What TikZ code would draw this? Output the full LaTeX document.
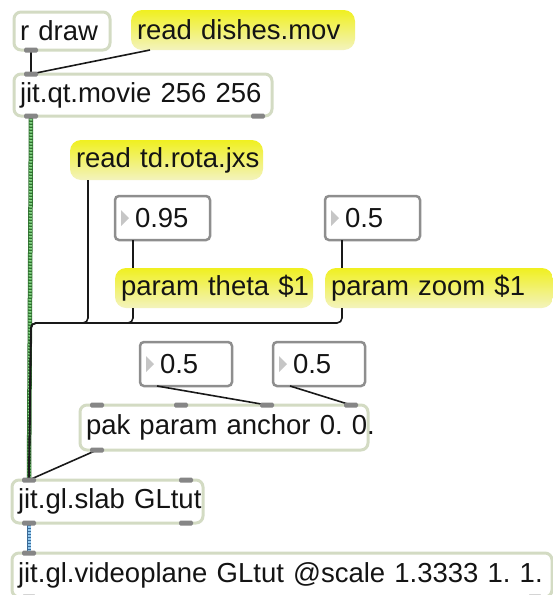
\documentclass[tikz,border=0pt]{standalone}
\usepackage{fontspec}
\setmainfont{Liberation Sans}
\usetikzlibrary{calc}
\frenchspacing

\definecolor{objedge}{HTML}{D3DBC3}
\definecolor{msgtop}{HTML}{F0F020}
\definecolor{msgbot}{HTML}{F3F3BE}
\definecolor{numedge}{HTML}{8E8E8E}
\definecolor{portgray}{HTML}{868686}
\definecolor{trigray}{HTML}{C6C6C6}
\definecolor{matgreen}{HTML}{86D886}
\definecolor{matdark}{HTML}{2F6F2F}
\definecolor{glblue}{HTML}{92C8EE}
\definecolor{gldark}{HTML}{3B6B98}

\tikzset{
  box/.style={anchor=north west, outer sep=0pt, inner xsep=6pt, inner ysep=0pt,
    align=left, text=black!92, font=\fontsize{27.5}{32}\selectfont},
  obj/.style={box, draw=objedge, line width=3pt, fill=white, rounded corners=7pt},
  msg/.style={box, top color=msgtop, bottom color=msgbot, draw=none, rounded corners=11pt},
  num/.style={box, draw=numedge, line width=2.5pt, fill=white, rounded corners=4pt},
  cord/.style={draw=black!90, line width=1.6pt, rounded corners=5pt},
  mcord/.style={line width=4.5pt, draw=matdark},
  mdots/.style={line width=3pt, draw=matgreen, dash pattern=on 1.5pt off 1.5pt},
  gcord/.style={line width=4.5pt, draw=gldark},
  gdots/.style={line width=3pt, draw=glblue, dash pattern=on 1.5pt off 1.5pt},
  portfill/.style={fill=portgray, rounded corners=1.5pt},
  trifill/.style={fill=trigray}
}

% small inlet/outlet tab centred on a point
\newcommand\tab[1]{\fill[portfill] (#1) ++(-7,-2.5) rectangle ++(14,5);}
% play triangle at the left of a number box
\newcommand\playtri[1]{\fill[trifill] ($(#1.west)+(6,-8)$) -- ++(0,16) -- ++(8,-8) -- cycle;}

\begin{document}
\begin{tikzpicture}[x=1pt,y=-1pt]
\useasboundingbox (0,0) rectangle (553,595);

% ---- boxes
\node[obj, text width=84pt, minimum height=38pt] (rdraw) at (14,12) {\mbox{r draw}};
\node[msg, text width=212pt, minimum height=40pt] (readmov) at (131,10) {\mbox{read dishes.mov}};
\node[obj, text width=246pt, minimum height=42pt] (movie) at (14,74) {\mbox{jit.qt.movie 256 256}};
\node[msg, text width=181pt, minimum height=40pt] (readjxs) at (70,140) {\mbox{read td.rota.jxs}};
\node[num, text width=83pt, minimum height=44pt] (numtheta) at (115,196) {\hspace*{14pt}0.95};
\node[num, text width=83pt, minimum height=44pt] (numzoom) at (325,196) {\hspace*{14pt}0.5};
\node[msg, text width=186pt, minimum height=40pt] (theta) at (115,268) {\mbox{param theta \$1}};
\node[msg, text width=216pt, minimum height=40pt] (zoom) at (325,268) {\mbox{param zoom \$1}};
\node[num, text width=80pt, minimum height=44pt] (numax) at (140,342) {\hspace*{14pt}0.5};
\node[num, text width=80pt, minimum height=44pt] (numay) at (273,342) {\hspace*{14pt}0.5};
\node[obj, text width=276pt, minimum height=45pt] (pak) at (80,405) {\mbox{pak param anchor 0. 0.}};
\node[obj, text width=179pt, minimum height=43pt] (slab) at (12,480) {\mbox{jit.gl.slab GLtut}};
\node[obj, text width=528pt, minimum height=44pt] (plane) at (12,553) {\mbox{jit.gl.videoplane GLtut @scale 1.3333 1. 1.}};

\playtri{numtheta}
\playtri{numzoom}
\playtri{numax}
\playtri{numay}

% ---- port positions
\coordinate (rdraw-o) at ($(rdraw.south west)+(17,0)$);
\coordinate (readmov-o) at ($(readmov.south west)+(19,0)$);
\coordinate (movie-i) at ($(movie.north west)+(17,0)$);
\coordinate (movie-o) at ($(movie.south west)+(17,0)$);
\coordinate (movie-o2) at ($(movie.south east)+(-14,0)$);
\coordinate (readjxs-o) at ($(readjxs.south west)+(18,0)$);
\coordinate (numtheta-o) at ($(numtheta.south west)+(18,0)$);
\coordinate (numzoom-o) at ($(numzoom.south west)+(17,0)$);
\coordinate (theta-i) at ($(theta.north west)+(18,0)$);
\coordinate (theta-o) at ($(theta.south west)+(18,0)$);
\coordinate (zoom-i) at ($(zoom.north west)+(17,0)$);
\coordinate (zoom-o) at ($(zoom.south west)+(17,0)$);
\coordinate (numax-o) at ($(numax.south west)+(17,0)$);
\coordinate (numay-o) at ($(numay.south west)+(17,0)$);
\coordinate (pak-i1) at ($(pak.north west)+(17,0)$);
\coordinate (pak-i2) at ($(pak.north west)+(101,0)$);
\coordinate (pak-i3) at ($(pak.north west)+(187,0)$);
\coordinate (pak-i4) at ($(pak.north west)+(271,0)$);
\coordinate (pak-o) at ($(pak.south west)+(17,0)$);
\coordinate (slab-i) at ($(slab.north west)+(17,0)$);
\coordinate (slab-i2) at ($(slab.north east)+(-17,0)$);
\coordinate (slab-o) at ($(slab.south west)+(17,0)$);
\coordinate (slab-o2) at ($(slab.south east)+(-17,0)$);
\coordinate (plane-i) at ($(plane.north west)+(17,0)$);
\coordinate (plane-o) at ($(plane.south west)+(17,0)$);
\coordinate (plane-o2) at ($(plane.south east)+(-17,0)$);
\coordinate (bus) at (31,323);

% ---- matrix and gl cords
\draw[mcord] (movie-o) -- (slab-i);
\draw[mdots] (movie-o) -- (slab-i);
\draw[gcord] (slab-o) -- (plane-i);
\draw[gdots] (slab-o) -- (plane-i);

% ---- message cords
\draw[cord] (rdraw-o) -- (movie-i);
\draw[cord] (readmov-o) -- (movie-i);
\draw[cord] (numtheta-o) -- (theta-i);
\draw[cord] (numzoom-o) -- (zoom-i);
\draw[cord] (readjxs-o) |- (bus) -- (slab-i);
\draw[cord] (theta-o) |- (bus) -- (slab-i);
\draw[cord] (zoom-o) |- (bus) -- (slab-i);
\draw[cord] (numax-o) -- (pak-i3);
\draw[cord] (numay-o) -- (pak-i4);
\draw[cord] (pak-o) -- (slab-i);

% ---- inlet and outlet tabs
\foreach \p in {rdraw-o, movie-i, movie-o, movie-o2, pak-i1, pak-i2, pak-i3, pak-i4,
                pak-o, slab-i, slab-i2, slab-o, slab-o2, plane-i, plane-o, plane-o2}
  {\tab{\p}}
\end{tikzpicture}
\end{document}
